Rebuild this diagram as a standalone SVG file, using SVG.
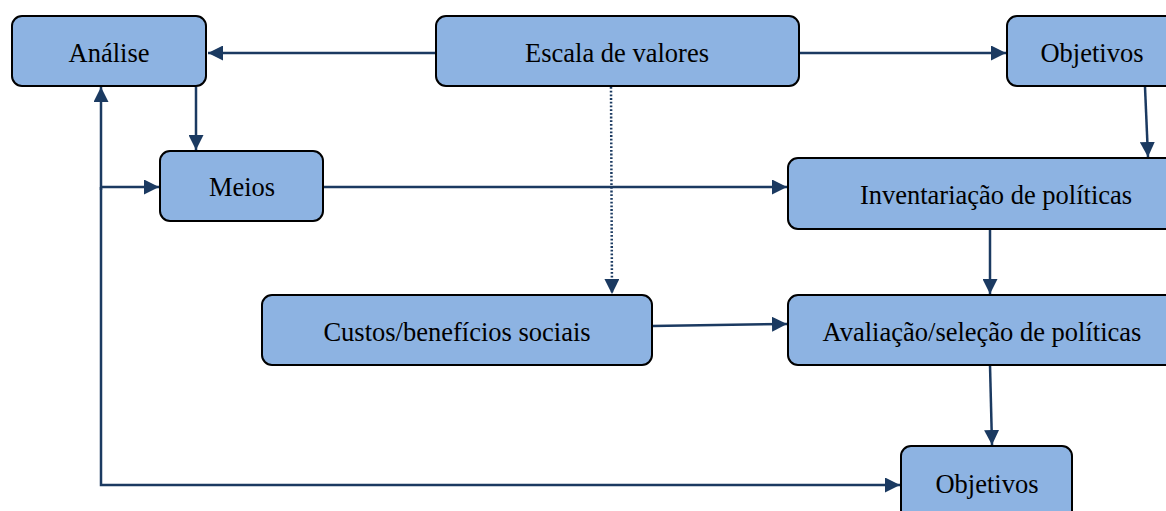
<svg xmlns="http://www.w3.org/2000/svg" width="1166" height="511" viewBox="0 0 1166 511">
<style>
.box{fill:#8db3e2;stroke:#000;stroke-width:2}
.lbl{font-family:"Liberation Serif","Times New Roman",serif;font-size:26.5px;fill:#000;text-anchor:middle}
.ln{stroke:#1b3a61;stroke-width:2.5;fill:none}
</style>
<defs>
<marker id="ah" viewBox="0 0 10 10" refX="10" refY="5" markerWidth="6" markerHeight="6" markerUnits="strokeWidth" orient="auto">
<path d="M0,0 L10,5 L0,10 Z" fill="#1b3a61"/>
</marker>
</defs>
<rect width="1166" height="511" fill="#fff"/>
<g id="connectors">
<line class="ln" x1="436" y1="53" x2="208" y2="53" marker-end="url(#ah)"/>
<line class="ln" x1="799" y1="53" x2="1006" y2="53" marker-end="url(#ah)"/>
<line class="ln" x1="196" y1="87" x2="196" y2="150" marker-end="url(#ah)"/>
<line class="ln" x1="1145" y1="87" x2="1148" y2="157" marker-end="url(#ah)"/>
<line class="ln" x1="323" y1="187" x2="787" y2="187" marker-end="url(#ah)"/>
<line class="ln" x1="611" y1="87" x2="612" y2="294" stroke-width="2.2" stroke-dasharray="1.8,1.9" marker-end="url(#ah)"/>
<line class="ln" x1="652" y1="326" x2="787" y2="324" marker-end="url(#ah)"/>
<line class="ln" x1="990" y1="229" x2="990" y2="294" marker-end="url(#ah)"/>
<line class="ln" x1="990" y1="365" x2="992" y2="445" marker-end="url(#ah)"/>
<polyline class="ln" points="101,187 101,485 900,485" marker-end="url(#ah)"/>
<line class="ln" x1="101" y1="190" x2="101" y2="87" marker-end="url(#ah)"/>
<line class="ln" x1="101" y1="187" x2="159" y2="187" marker-end="url(#ah)"/>
</g>
<g id="analise"><rect class="box" x="12" y="16" width="194" height="70" rx="10"/><text class="lbl" x="109" y="62">Análise</text></g>
<g id="escala"><rect class="box" x="436" y="16" width="363" height="70" rx="10"/><text class="lbl" x="617" y="62">Escala de valores</text></g>
<g id="objetivos1"><rect class="box" x="1007" y="16" width="170" height="70" rx="10"/><text class="lbl" x="1092" y="62">Objetivos</text></g>
<g id="meios"><rect class="box" x="160" y="151" width="163" height="70" rx="10"/><text class="lbl" x="242" y="196">Meios</text></g>
<g id="inventariacao"><rect class="box" x="788" y="158" width="390" height="71" rx="10"/><text class="lbl" x="996" y="204">Inventariação de políticas</text></g>
<g id="custos"><rect class="box" x="262" y="295" width="390" height="70" rx="10"/><text class="lbl" x="457" y="341">Custos/benefícios sociais</text></g>
<g id="avaliacao"><rect class="box" x="788" y="295" width="390" height="70" rx="10"/><text class="lbl" x="982" y="341">Avaliação/seleção de políticas</text></g>
<g id="objetivos2"><rect class="box" x="901" y="446" width="171" height="75" rx="10"/><text class="lbl" x="987" y="493">Objetivos</text></g>
</svg>
